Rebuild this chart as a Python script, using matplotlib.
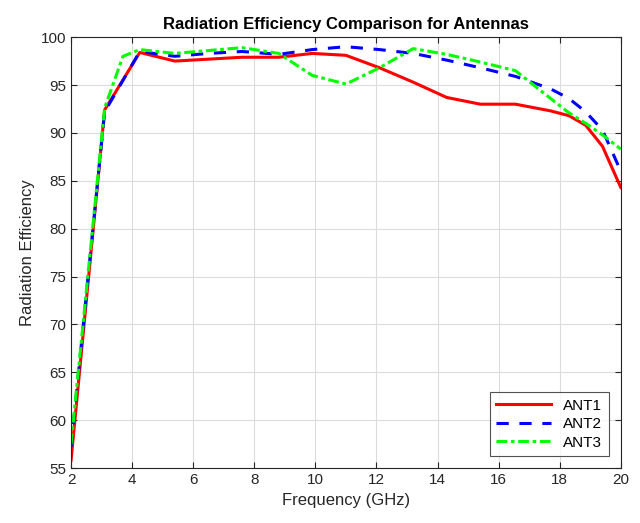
import matplotlib.pyplot as plt

plt.rcParams['font.family'] = ['Liberation Sans', 'DejaVu Sans']

# frequency points (GHz)
freq = [2, 3.1, 4.25, 5.4, 6.5, 7.6, 8.8, 9.9, 11, 12.1, 13.2, 14.3, 15.4, 16.55, 17.7, 18.3, 18.85, 19.4, 20]
freq3 = [2, 3.1, 3.7, 4.25, 5.4, 6.5, 7.6, 8.8, 9.9, 11, 12.1, 13.2, 14.3, 15.4, 16.55, 17.7, 18.3, 18.85, 19.4, 20]

ant1 = [55.8, 92.4, 98.4, 97.5, 97.7, 97.9, 97.9, 98.3, 98.1, 96.8, 95.3, 93.7, 93.0, 93.0, 92.3, 91.8, 90.8, 88.6, 84.3]
ant2 = [57.2, 92.2, 98.5, 98.0, 98.3, 98.5, 98.2, 98.7, 99.0, 98.7, 98.3, 97.6, 96.8, 95.9, 94.6, 93.6, 92.2, 90.3, 86.0]
ant3 = [57.5, 92.6, 98.0, 98.7, 98.3, 98.6, 98.9, 98.3, 96.0, 95.1, 96.8, 98.8, 98.2, 97.4, 96.5, 93.6, 92.1, 91.0, 89.8, 88.3]

fig = plt.figure(figsize=(6.4, 5.23), dpi=100)
ax = fig.add_axes([0.111, 0.105, 0.859, 0.824])

ax.plot(freq, ant1, color='#ff0000', lw=2.2, label='ANT1')
ax.plot(freq, ant2, color='#0000ff', lw=2.2, ls=(0, (4, 3.5)), label='ANT2')
ax.plot(freq3, ant3, color='#00ff00', lw=2.2, ls=(0, (3.5, 1.2, 1.2, 1.2)), label='ANT3')

ax.set_xlim(2, 20)
ax.set_ylim(55, 100)
ax.set_xticks(range(2, 21, 2))
ax.set_yticks(range(55, 101, 5))
ax.grid(True, color='#dcdcdc', lw=0.8)
ax.tick_params(direction='in', top=True, right=True, labelsize=11, colors='#262626', length=4)
for s in ax.spines.values():
    s.set_color('#262626')
    s.set_linewidth(0.8)

ax.set_xlabel('Frequency (GHz)', fontsize=12, color='#262626')
ax.set_ylabel('Radiation Efficiency', fontsize=12, color='#262626')
ax.set_title('Radiation Efficiency Comparison for Antennas', fontsize=12, fontweight='bold', pad=6)

leg = ax.legend(loc='lower right', fontsize=11, fancybox=False, edgecolor='#262626',
                handlelength=3.6, borderaxespad=0.8, labelspacing=0.3)
leg.get_frame().set_linewidth(0.8)

plt.savefig('out.png', dpi=100)
